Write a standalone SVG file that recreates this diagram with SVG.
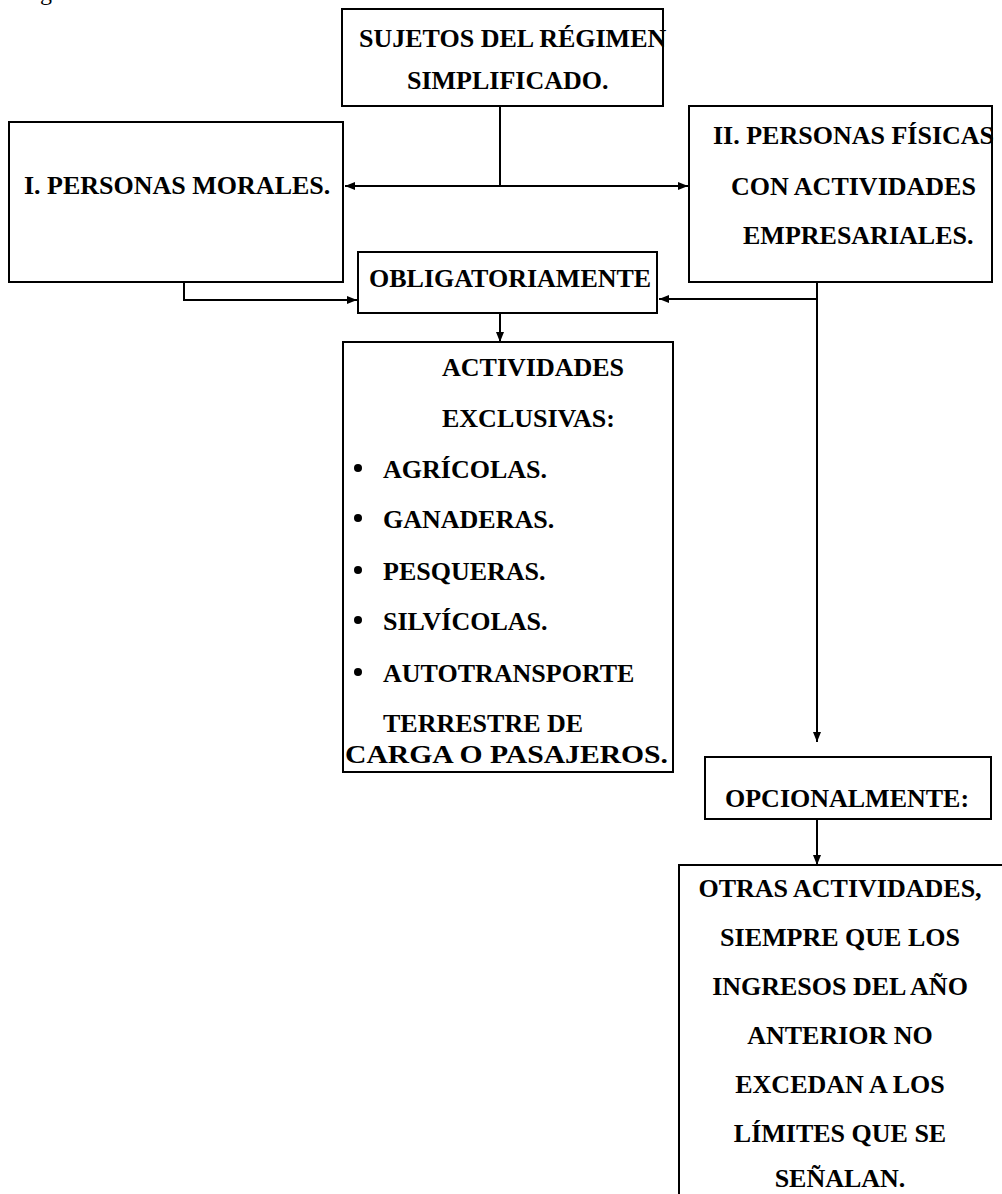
<svg xmlns="http://www.w3.org/2000/svg" width="1002" height="1194" viewBox="0 0 1002 1194">
  <style>
    .box { fill: #fff; stroke: #000; stroke-width: 2; }
    .t { font-family: "Liberation Serif", "Times New Roman", serif; font-weight: bold; font-size: 26px; fill: #000; }
    .c { text-anchor: middle; }
    .lead { font-family: "Liberation Serif", "Times New Roman", serif; font-size: 24px; fill: #000; }
    .wire { fill: none; stroke: #000; stroke-width: 2; }
  </style>
  <defs>
    <marker id="arrow" viewBox="0 0 10 8" refX="10" refY="4" markerWidth="10" markerHeight="8" markerUnits="userSpaceOnUse" orient="auto">
      <path d="M0,0 L10,4 L0,8 Z" fill="#000"/>
    </marker>
  </defs>

  <rect width="1002" height="1194" fill="#fff"/>

  <!-- line of running text above the chart, cut at the top edge -->
  <text class="lead" x="24" y="0">siguiente estructura:</text>

  <!-- connectors -->
  <g id="connectors">
    <path class="wire" d="M500,106 V186"/>
    <path class="wire" d="M500,186 H345" marker-end="url(#arrow)"/>
    <path class="wire" d="M500,186 H688" marker-end="url(#arrow)"/>
    <path class="wire" d="M184,282 V300 H357" marker-end="url(#arrow)"/>
    <path class="wire" d="M817,282 V742" marker-end="url(#arrow)"/>
    <path class="wire" d="M817,299 H659" marker-end="url(#arrow)"/>
    <path class="wire" d="M500,313 V342" marker-end="url(#arrow)"/>
    <path class="wire" d="M817,819 V865" marker-end="url(#arrow)"/>
  </g>

  <g id="sujetos">
    <rect class="box" x="342" y="9" width="321" height="97"/>
    <text class="t" x="359" y="47">SUJETOS DEL RÉGIMEN</text>
    <text class="t" x="407" y="89">SIMPLIFICADO.</text>
  </g>

  <g id="morales">
    <rect class="box" x="9" y="122" width="334" height="160"/>
    <text class="t" x="24" y="194">I. PERSONAS MORALES.</text>
  </g>

  <g id="fisicas">
    <rect class="box" x="689" y="106" width="303" height="176"/>
    <text class="t" x="713" y="144">II. PERSONAS FÍSICAS</text>
    <text class="t" x="731" y="195">CON ACTIVIDADES</text>
    <text class="t" x="743" y="244">EMPRESARIALES.</text>
  </g>

  <g id="obligatoriamente">
    <rect class="box" x="358" y="252" width="299" height="61"/>
    <text class="t" x="369" y="287">OBLIGATORIAMENTE</text>
  </g>

  <g id="actividades">
    <rect class="box" x="343" y="342" width="330" height="430"/>
    <text class="t" x="442" y="376">ACTIVIDADES</text>
    <text class="t" x="442" y="427">EXCLUSIVAS:</text>
    <g class="t">
      <circle cx="358" cy="468" r="4"/>
      <text class="t" x="383" y="478">AGRÍCOLAS.</text>
      <circle cx="358" cy="518" r="4"/>
      <text class="t" x="383" y="528">GANADERAS.</text>
      <circle cx="358" cy="570" r="4"/>
      <text class="t" x="383" y="580">PESQUERAS.</text>
      <circle cx="358" cy="620" r="4"/>
      <text class="t" x="383" y="630">SILVÍCOLAS.</text>
      <circle cx="358" cy="672" r="4"/>
      <text class="t" x="383" y="682">AUTOTRANSPORTE</text>
      <text class="t" x="383" y="732">TERRESTRE DE</text>
    </g>
    <text class="t" x="345" y="763" textLength="323" lengthAdjust="spacingAndGlyphs">CARGA O PASAJEROS.</text>
  </g>

  <g id="opcionalmente">
    <rect class="box" x="705" y="757" width="286" height="62"/>
    <text class="t" x="725" y="807">OPCIONALMENTE:</text>
  </g>

  <g id="otras">
    <rect class="box" x="679" y="865" width="340" height="360"/>
    <text class="t c" x="840" y="897">OTRAS ACTIVIDADES,</text>
    <text class="t c" x="840" y="946">SIEMPRE QUE LOS</text>
    <text class="t c" x="840" y="995">INGRESOS DEL AÑO</text>
    <text class="t c" x="840" y="1044">ANTERIOR NO</text>
    <text class="t c" x="840" y="1093">EXCEDAN A LOS</text>
    <text class="t c" x="840" y="1142">LÍMITES QUE SE</text>
    <text class="t c" x="840" y="1187">SEÑALAN.</text>
  </g>
</svg>
